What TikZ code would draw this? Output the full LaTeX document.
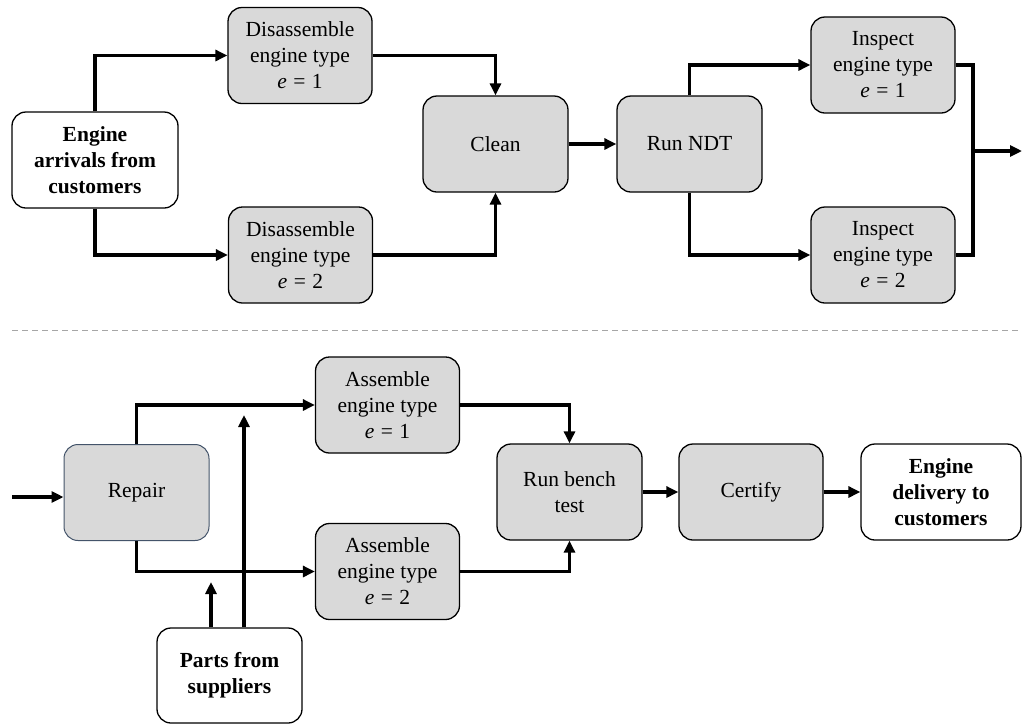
\documentclass[tikz,border=0pt]{standalone}
\usepackage{fontspec}
\setmainfont{Liberation Serif}
\usetikzlibrary{arrows.meta}

\definecolor{boxgray}{RGB}{217,217,217}
\definecolor{repairline}{RGB}{68,84,106}
\definecolor{dashgray}{RGB}{166,166,166}

% engine type label, e.g. "e = 1"
\newcommand{\etype}[1]{\textit{e}\hspace{0.3em}=\hspace{0.3em}#1}

\begin{document}
\begin{tikzpicture}[x=1pt,y=-1pt,
  box/.style={draw=black, line width=1.3pt, rounded corners=14pt, align=center,
    inner sep=2pt, font=\fontsize{21.5}{26}\selectfont},
  proc/.style={box, fill=boxgray, minimum width=144pt, minimum height=96pt},
  io/.style={box, fill=white, minimum height=96pt,
    font=\fontsize{21.5}{26}\selectfont\bfseries},
  flow/.style={line width=3.5pt, -{Triangle[length=12pt,width=11pt]}},
  link/.style={line width=3.5pt}
]
\useasboundingbox (0,0) rectangle (1022,724);

% ---------------- disassembly, cleaning and inspection ----------------
\node[io, minimum width=166pt] (arr) at (95,160) {Engine\\arrivals from\\customers};
\node[proc] (dis1) at (300,55.5) {Disassemble\\engine type\\\etype{1}};
\node[proc] (dis2) at (300.5,255) {Disassemble\\engine type\\\etype{2}};
\node[proc, minimum width=145pt] (clean) at (495.5,144) {Clean};
\node[proc, minimum width=145pt] (ndt) at (689.5,144) {Run NDT};
\node[proc] (ins1) at (883,65) {Inspect\\engine type\\\etype{1}};
\node[proc] (ins2) at (883,255) {Inspect\\engine type\\\etype{2}};
\coordinate (mrg) at (973,151);
\coordinate (out) at (1022,151);

\draw[flow] (arr.north) |- (dis1.west);
\draw[flow] (arr.south) |- (dis2.west);
\draw[flow] (dis1.east) -| (clean.north);
\draw[flow] (dis2.east) -| (clean.south);
\draw[flow] (clean.east) -- (ndt.west);
\draw[flow] (ndt.north) |- (ins1.west);
\draw[flow] (ndt.south) |- (ins2.west);
\draw[link] (ins1.east) -| (mrg) |- (ins2.east);
\draw[flow] (mrg) -- (out);

% separator
\coordinate (sepL) at (12,330);
\coordinate (sepR) at (1022,330);
\draw[dashgray, line width=1pt, dash pattern=on 6pt off 4pt] (sepL) -- (sepR);

% ---------------- repair, assembly and test ----------------
\coordinate (in) at (12,497);
\node[proc, draw=repairline, line width=1pt, minimum width=145pt] (repair) at (136.5,492.5) {Repair};
\node[proc] (asm1) at (387.5,405) {Assemble\\engine type\\\etype{1}};
\node[proc] (asm2) at (387.5,571.5) {Assemble\\engine type\\\etype{2}};
\node[proc, minimum width=145pt] (bench) at (569.5,492) {Run bench\\test};
\node[proc] (cert) at (751,492) {Certify};
\node[io, minimum width=160pt] (deliv) at (941,492) {Engine\\delivery to\\customers};
\node[io, minimum width=145pt, minimum height=95pt] (parts) at (229.5,675.5) {Parts from\\suppliers};
\coordinate (p1) at (211,582);
\coordinate (p2) at (244,415);

\draw[flow] (in) -- (in -| repair.west);
\draw[flow] (repair.north) |- (asm1.west);
\draw[flow] (repair.south) |- (asm2.west);
\draw[flow] (asm1.east) -| (bench.north);
\draw[flow] (asm2.east) -| (bench.south);
\draw[flow] (bench.east) -- (cert.west);
\draw[flow] (cert.east) -- (deliv.west);
\draw[flow] (parts.north -| p1) -- (p1);
\draw[flow] (parts.north -| p2) -- (p2);
\end{tikzpicture}
\end{document}
